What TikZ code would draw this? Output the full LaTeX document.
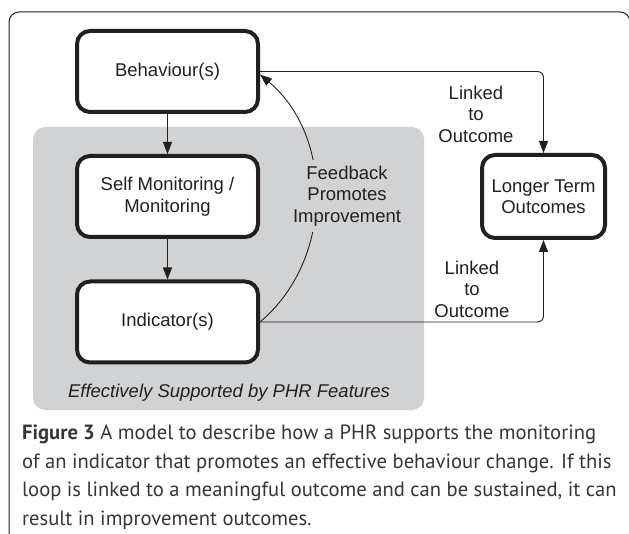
\documentclass[tikz,border=0pt]{standalone}
\usepackage{fontspec}
\setmainfont{Liberation Sans}
\newfontfamily\capfont{PT Sans}
\usetikzlibrary{arrows.meta}
\definecolor{phrgray}{RGB}{209,210,212}
\definecolor{ink}{RGB}{35,31,32}
\definecolor{capink}{RGB}{55,53,55}

\begin{document}
\begin{tikzpicture}[x=1pt,y=1pt,
  font=\fontsize{18.5}{21.5}\selectfont,
  stage/.style={draw=ink, line width=4pt, rounded corners=13pt, fill=white,
    minimum width=181pt, minimum height=81pt, align=center, text=ink},
  link/.style={draw=ink, line width=0.9pt, -{Triangle[length=12pt,width=9pt]}},
  note/.style={align=center, text=ink}]
\useasboundingbox (0,0) rectangle (629,-534);
% frame and shaded area
\draw[ink, line width=1pt, rounded corners=10pt] (9,-548) -- (9,-12) -- (630,-12) -- (630,-548);
\fill[phrgray, rounded corners=12pt] (33,-127) rectangle (424,-410);
% boxes
\node[stage] (beh) at (167.5,-71.5) {Behaviour(s)};
\node[stage] (self) at (167.5,-196.5) {Self Monitoring /\\Monitoring};
\node[stage] (ind) at (167.5,-322) {Indicator(s)};
\node[stage, minimum width=123pt, minimum height=83pt] (lto) at (543.5,-196.5) {Longer Term\\Outcomes};
% connectors
\draw[link] (beh) -- (self);
\draw[link] (self) -- (ind);
\draw[link, rounded corners=6pt] (beh.east) -| (lto.north);
\draw[link, rounded corners=6pt] (ind.east) -| (lto.south);
\draw[link] (ind.east) to[out=40,in=-40] ([yshift=-3pt]beh.east);
% labels
\node[note, fill=phrgray, inner sep=6pt] (fb) at (347,-196) {Feedback\\Promotes\\Improvement};
\node[note] (lnk1) at (476,-114) {Linked\\to\\Outcome};
\node[note] (lnk2) at (472,-289) {Linked\\to\\Outcome};
\node[note, font=\itshape\fontsize{18.5}{21.5}\selectfont] (sup) at (229,-393) {Effectively Supported by PHR Features};
% caption
\node[anchor=north west, align=left, inner sep=0pt, text=capink,
  font=\capfont\fontsize{20.6}{28.5}\selectfont] (cap) at (22,-425)
  {\textbf{Figure 3} A model to describe how a PHR supports the monitoring\\
   of an indicator that promotes an effective behaviour change. If this\\
   loop is linked to a meaningful outcome and can be sustained, it can\\
   result in improvement outcomes.};
\end{tikzpicture}
\end{document}
